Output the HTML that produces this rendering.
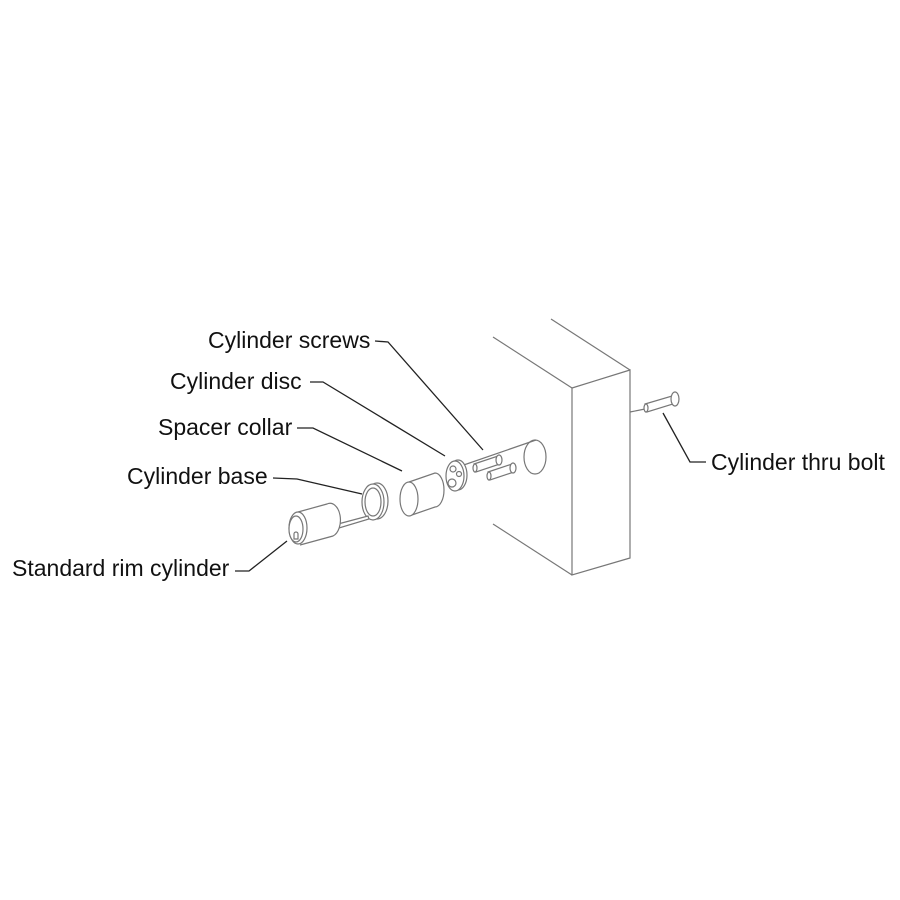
<!DOCTYPE html>
<html><head><style>
body{margin:0;background:#fff;}
svg{display:block}
text{font-family:"Liberation Sans",Arial,sans-serif;font-size:23px;fill:#111;}
</style></head><body>
<svg width="900" height="900" viewBox="0 0 900 900">
<rect width="900" height="900" fill="#fff"/>
<g fill="#fff" stroke="#777" stroke-width="1.2">
<line x1="493" y1="337" x2="572" y2="388"/>
<line x1="551" y1="319" x2="630" y2="370"/>
<line x1="493" y1="524" x2="572" y2="575"/>
<polygon points="572,388 630,370 630,558 572,575"/>
<line x1="630" y1="412" x2="645" y2="409"/>
<ellipse cx="535" cy="457" rx="11" ry="17"/>
<line x1="455" y1="468" x2="536" y2="440"/>
<path d="M645,404 L672,396 L673,404 L647,412 Z"/>
<ellipse cx="646" cy="408" rx="2" ry="4"/>
<ellipse cx="675" cy="399" rx="4" ry="7"/>
<path d="M474,464 L498,456 L500,464 L476,472 Z"/>
<ellipse cx="475" cy="468" rx="2" ry="4"/>
<ellipse cx="499" cy="460" rx="3" ry="5"/>
<path d="M488,472 L512,464 L514,472 L490,480 Z"/>
<ellipse cx="489" cy="476" rx="2" ry="4"/>
<ellipse cx="513" cy="468" rx="3" ry="5"/>
<ellipse cx="458" cy="475" rx="9" ry="15"/>
<ellipse cx="455" cy="476" rx="9" ry="15"/>
<circle cx="453" cy="469" r="3"/>
<circle cx="459" cy="474" r="2.5"/>
<circle cx="452" cy="483" r="4"/>
<path d="M409,482 L435,473 A9,17 0 0 1 435,507 L409,516"/>
<ellipse cx="409" cy="499" rx="9" ry="17"/>
<ellipse cx="377" cy="501" rx="11" ry="18"/>
<ellipse cx="373" cy="502" rx="11" ry="18"/>
<ellipse cx="373" cy="502" rx="8" ry="14"/>
<path d="M338,524 L368,516 L369,519 L339,528 Z"/>
<path d="M298,512 L327,504 A10,16 0 0 1 333,536 L300,545"/>
<ellipse cx="298" cy="528" rx="9" ry="16"/>
<ellipse cx="296" cy="529" rx="7" ry="13"/>
<path d="M294,534 a2,2 0 0 1 4,0 l0,5 l-4,0 z"/>
</g>
<g fill="none" stroke="#222" stroke-width="1.3">
<polyline points="375,341 388,342 483,450"/>
<polyline points="310,382 323,382 445,456"/>
<polyline points="297,428 313,428 402,471"/>
<polyline points="273,478 297,479 362,494"/>
<polyline points="235,571 249,571 287,541"/>
<polyline points="706,462 690,462 663,413"/>
</g>
<text x="208" y="348">Cylinder screws</text>
<text x="170" y="389">Cylinder disc</text>
<text x="158" y="435">Spacer collar</text>
<text x="127" y="484">Cylinder base</text>
<text x="12" y="576">Standard rim cylinder</text>
<text x="711" y="470">Cylinder thru bolt</text>
</svg>
</body></html>
